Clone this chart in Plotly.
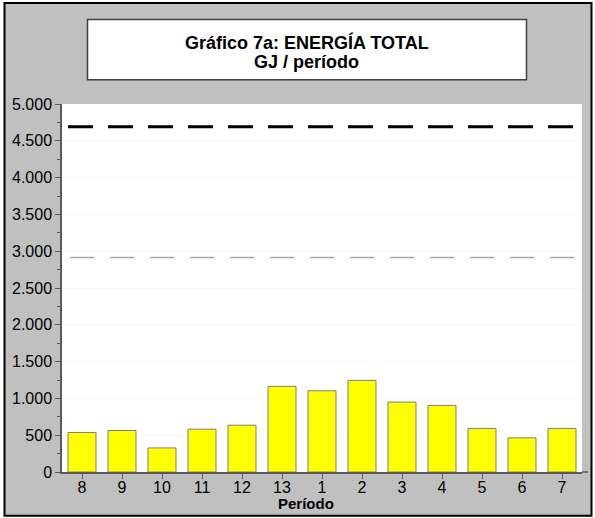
import plotly.graph_objects as go

# ---- data ----
periodos = ["8", "9", "10", "11", "12", "13", "1", "2", "3", "4", "5", "6", "7"]
energia_gj = [537, 564, 327, 582, 636, 1164, 1104, 1245, 950, 905, 592, 464, 592]
limite_superior = 4690
limite_inferior = 2915
y_ticks = [0, 500, 1000, 1500, 2000, 2500, 3000, 3500, 4000, 4500, 5000]

title_line1 = "Gráfico 7a: ENERGÍA TOTAL"
title_line2 = "GJ / período"
x_title = "Período"

# ---- layout geometry (pixels) ----
W, H = 595, 518
PL, PR, PT, PB = 62, 582, 104.3, 471.7


def px_x(px):
    return (px - PL) / (PR - PL)


def px_y(py):
    return (PB - py) / (PB - PT)


FONT = "Liberation Sans, Arial, sans-serif"

fig = go.Figure()
fig.add_trace(go.Bar(
    x=periodos, y=energia_gj,
    marker=dict(color="#ffff00", line=dict(color="#7f7f7f", width=1)),
    width=0.7, showlegend=False, hoverinfo="x+y",
))

shapes = []
# outer frame with white outside strips
for (x0, y0, x1, y1) in [(0, 0, 4, H), (592, 0, W, H), (0, 0, W, 3), (0, 516, W, H)]:
    shapes.append(dict(type="rect", xref="paper", yref="paper",
                       x0=px_x(x0), x1=px_x(x1), y0=px_y(y0), y1=px_y(y1),
                       fillcolor="white", line=dict(width=0), layer="above"))
shapes.append(dict(type="rect", xref="paper", yref="paper",
                   x0=px_x(4.5), x1=px_x(591.5), y0=px_y(3.5), y1=px_y(515.5),
                   line=dict(color="black", width=2), layer="above"))
# title box
shapes.append(dict(type="rect", xref="paper", yref="paper",
                   x0=px_x(87.5), x1=px_x(526.5), y0=px_y(20), y1=px_y(80),
                   fillcolor="white", line=dict(color="#404040", width=1.5), layer="above"))
# reference lines
shapes.append(dict(type="line", xref="paper", yref="y",
                   x0=px_x(68), x1=1, y0=limite_superior, y1=limite_superior,
                   line=dict(color="black", width=3, dash="25px,15px")))
shapes.append(dict(type="line", xref="paper", yref="y",
                   x0=px_x(70), x1=1, y0=limite_inferior, y1=limite_inferior,
                   line=dict(color="#a6a6a6", width=1.5, dash="24px,16px")))
# x axis line extension to the right
shapes.append(dict(type="line", xref="paper", yref="paper",
                   x0=1, x1=px_x(588), y0=0, y1=0,
                   line=dict(color="#595959", width=1.5)))

annotations = [
    dict(text="<b>" + title_line1 + "</b>", xref="paper", yref="paper",
         x=px_x(306.5), y=px_y(42.5), xanchor="center", yanchor="middle",
         showarrow=False, font=dict(family=FONT, size=18, color="black")),
    dict(text="<b>" + title_line2 + "</b>", xref="paper", yref="paper",
         x=px_x(306.5), y=px_y(62.5), xanchor="center", yanchor="middle",
         showarrow=False, font=dict(family=FONT, size=18, color="black")),
    dict(text="<b>" + x_title + "</b>", xref="paper", yref="paper",
         x=px_x(306), y=px_y(503), xanchor="center", yanchor="middle",
         showarrow=False, font=dict(family=FONT, size=15, color="black")),
]

fig.update_layout(
    width=W, height=H,
    margin=dict(l=PL, r=W - PR, t=PT, b=H - PB, pad=0),
    paper_bgcolor="#c0c0c0", plot_bgcolor="white",
    separators=",.",
    shapes=shapes, annotations=annotations,
    font=dict(family=FONT, size=14, color="black"),
    bargap=0.3,
)
fig.update_xaxes(
    type="category", categoryorder="array", categoryarray=periodos,
    showline=True, linecolor="#595959", linewidth=1.5,
    ticks="outside", ticklen=5, tickcolor="#595959", tickwidth=1,
    ticklabelstandoff=-5,
    tickfont=dict(family=FONT, size=16, color="black"),
    showgrid=False, zeroline=False,
)
fig.update_yaxes(
    range=[0, 5000], tickmode="array", tickvals=y_ticks,
    ticktext=[f"{v:,}".replace(",", ".") for v in y_ticks],
    showline=True, linecolor="#595959", linewidth=1.5,
    ticks="outside", ticklen=5, tickcolor="#595959", tickwidth=1,
    minor=dict(dtick=250, ticks="outside", ticklen=3, tickcolor="#595959", showgrid=False),
    tickfont=dict(family=FONT, size=16, color="black"),
    showgrid=True, gridcolor="#f7f7f7", gridwidth=1, zeroline=False,
)

fig.write_html(
    "out.html",
    config={"displayModeBar": False},
    post_script="document.body.style.margin='0';document.body.style.padding='0';",
)
